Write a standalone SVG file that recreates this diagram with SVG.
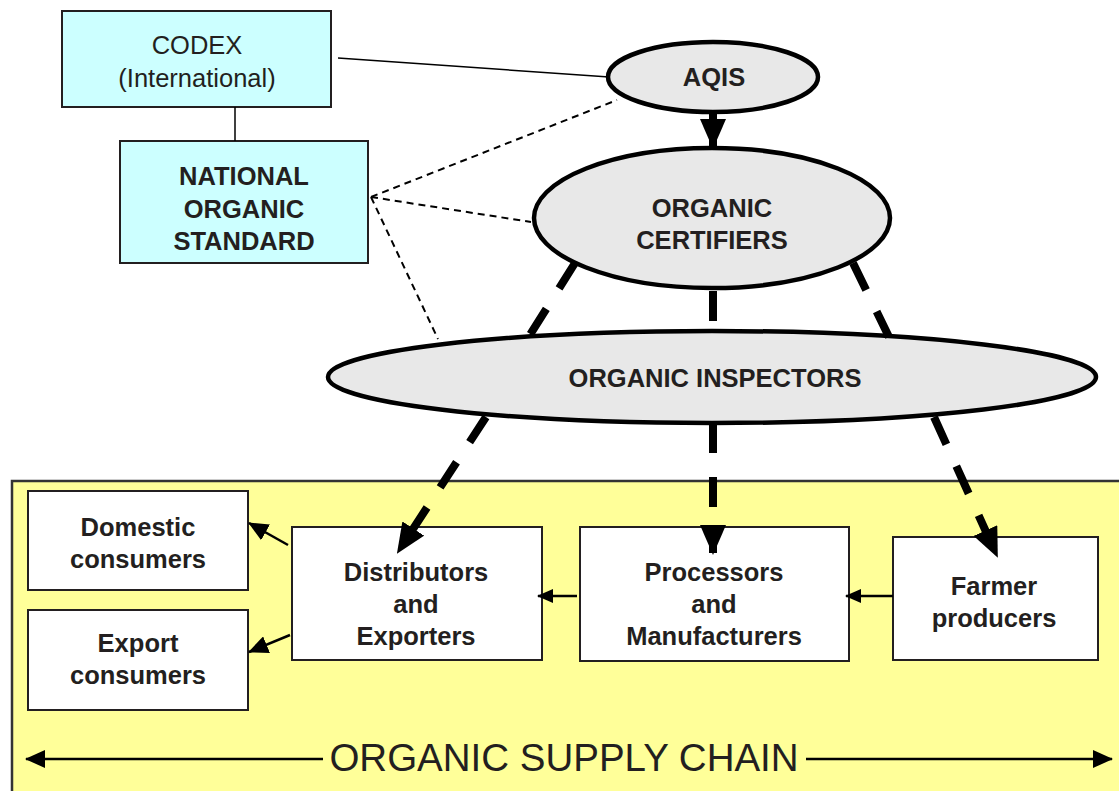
<svg xmlns="http://www.w3.org/2000/svg" width="1119" height="791" viewBox="0 0 1119 791">
<style>
text{font-family:"Liberation Sans",Arial,sans-serif;fill:#231f20;text-anchor:middle}
.b{font-weight:bold;font-size:25.5px}
.r{font-size:25.5px}
.cy{fill:#ccffff;stroke:#231f20;stroke-width:2}
.wb{fill:#ffffff;stroke:#231f20;stroke-width:2}
.el{fill:#e8e8e8;stroke:#000;stroke-width:4.5}
.thin{stroke:#000;stroke-width:1.5;fill:none}
.dot{stroke:#000;stroke-width:2;stroke-dasharray:7 5;fill:none}
.thick{stroke:#000;stroke-width:8;stroke-dasharray:30 24;fill:none}
.med{stroke:#000;stroke-width:2.5;fill:none}
</style>
<defs>
<marker id="big" markerUnits="userSpaceOnUse" viewBox="0 0 30 26" refX="28" refY="13" markerWidth="30" markerHeight="26" orient="auto"><path d="M0,0 L30,13 L0,26 Z" fill="#000"/></marker>
<marker id="sm" markerUnits="userSpaceOnUse" viewBox="0 0 16 14" refX="15" refY="7" markerWidth="16" markerHeight="14" orient="auto"><path d="M0,0 L16,7 L0,14 Z" fill="#000"/></marker>
<marker id="smb" markerUnits="userSpaceOnUse" viewBox="0 0 20 18" refX="19" refY="9" markerWidth="20" markerHeight="18" orient="auto"><path d="M0,0 L20,9 L0,18 Z" fill="#000"/></marker>
</defs>
<rect width="1119" height="791" fill="#fff"/>
<g id="supply-chain">
<rect x="12" y="481" width="1120" height="320" fill="#ffff99" stroke="#333" stroke-width="2.5"/>
<text x="564" y="771" style="font-size:38.5px">ORGANIC SUPPLY CHAIN</text>
</g>
<g id="codex">
<rect class="cy" x="62" y="11" width="269" height="96"/>
<text class="r" x="197" y="54">CODEX</text>
<text class="r" x="197" y="87">(International)</text>
</g>
<g id="national">
<rect class="cy" x="120" y="141" width="248" height="122"/>
<text class="b" x="244" y="185">NATIONAL</text>
<text class="b" x="244" y="218">ORGANIC</text>
<text class="b" x="244" y="250">STANDARD</text>
</g>
<g id="aqis">
<ellipse class="el" cx="713" cy="77" rx="105" ry="35"/>
<text class="b" x="714" y="86">AQIS</text>
</g>
<g id="certifiers">
<ellipse class="el" cx="712" cy="218" rx="178" ry="70"/>
<text class="b" x="712" y="217">ORGANIC</text>
<text class="b" x="712" y="249">CERTIFIERS</text>
</g>
<g id="inspectors">
<ellipse class="el" cx="712" cy="377" rx="384" ry="46"/>
<text class="b" x="715" y="387">ORGANIC INSPECTORS</text>
</g>
<g id="domestic">
<rect class="wb" x="28" y="491" width="220" height="99"/>
<text class="b" x="138" y="536">Domestic</text>
<text class="b" x="138" y="568">consumers</text>
</g>
<g id="export">
<rect class="wb" x="28" y="610" width="220" height="100"/>
<text class="b" x="138" y="652">Export</text>
<text class="b" x="138" y="684">consumers</text>
</g>
<g id="distributors">
<rect class="wb" x="292" y="527" width="250" height="133"/>
<text class="b" x="416" y="581">Distributors</text>
<text class="b" x="416" y="613">and</text>
<text class="b" x="416" y="645">Exporters</text>
</g>
<g id="processors">
<rect class="wb" x="580" y="527" width="269" height="134"/>
<text class="b" x="714" y="581">Processors</text>
<text class="b" x="714" y="613">and</text>
<text class="b" x="714" y="645">Manufacturers</text>
</g>
<g id="farmer">
<rect class="wb" x="893" y="537" width="205" height="123"/>
<text class="b" x="994" y="595">Farmer</text>
<text class="b" x="994" y="627">producers</text>
</g>
<g id="connectors">
<line class="thin" x1="338" y1="58" x2="609" y2="77"/>
<line class="thin" x1="235" y1="107" x2="235" y2="141"/>
<line class="dot" x1="371" y1="197" x2="617" y2="100"/>
<line class="dot" x1="371" y1="197" x2="531" y2="222"/>
<line class="dot" x1="371" y1="197" x2="438" y2="339"/>
<line x1="713" y1="113" x2="713" y2="147" stroke="#000" stroke-width="8" marker-end="url(#big)"/>
<line class="thick" x1="575" y1="263" x2="528" y2="338"/>
<line class="thick" x1="713" y1="291" x2="713" y2="330"/>
<line class="thick" x1="853" y1="263" x2="889" y2="337"/>
<line class="thick" x1="486" y1="417" x2="398" y2="552" marker-end="url(#big)"/>
<line class="thick" x1="713" y1="423" x2="713" y2="553" stroke-dasharray="14 28 32 26 40" marker-end="url(#big)"/>
<line class="thick" x1="934" y1="417" x2="997" y2="556" marker-end="url(#big)"/>
<line class="med" x1="288" y1="545" x2="249" y2="523" marker-end="url(#smb)"/>
<line class="med" x1="290" y1="635" x2="249" y2="652" marker-end="url(#smb)"/>
<line class="med" x1="577" y1="596" x2="538" y2="596" marker-end="url(#sm)"/>
<line class="med" x1="893" y1="596" x2="846" y2="596" marker-end="url(#sm)"/>
<line class="med" x1="323" y1="759" x2="26" y2="759" marker-end="url(#smb)"/>
<line class="med" x1="806" y1="759" x2="1112" y2="759" marker-end="url(#smb)"/>
</g>
</svg>
